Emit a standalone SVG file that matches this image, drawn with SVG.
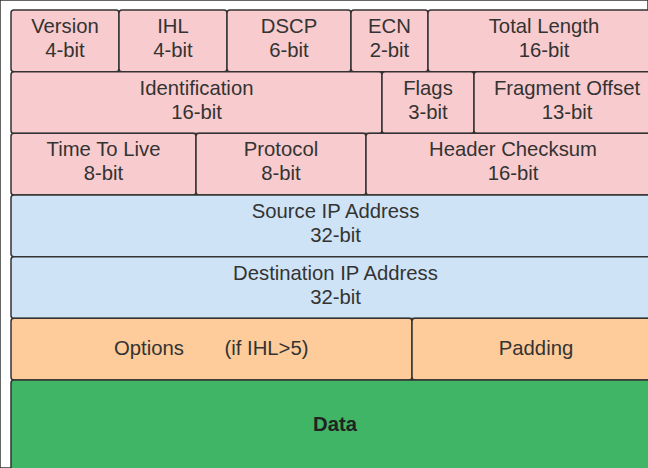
<svg xmlns="http://www.w3.org/2000/svg" width="648" height="468" viewBox="0 0 648 468">
<style>
rect{stroke:#333;stroke-width:1.5}
.p{fill:#F8CBCE}.b{fill:#CFE3F7}.o{fill:#FECB9A}.g{fill:#3FB565}
text{font-family:"Liberation Sans",Arial,sans-serif;font-size:20.3px;fill:#333;text-anchor:middle}
.bold{font-weight:bold;fill:#222}
</style>
<rect width="648" height="468" fill="#fff" stroke="none"/>
<g id="version"><rect class="p" x="11" y="10" width="108" height="61.7" rx="3"/><text x="65" y="33">Version</text><text x="65" y="57">4-bit</text></g>
<g id="ihl"><rect class="p" x="119" y="10" width="108" height="61.7" rx="3"/><text x="173" y="33">IHL</text><text x="173" y="57">4-bit</text></g>
<g id="dscp"><rect class="p" x="227" y="10" width="124" height="61.7" rx="3"/><text x="289" y="33">DSCP</text><text x="289" y="57">6-bit</text></g>
<g id="ecn"><rect class="p" x="351" y="10" width="77" height="61.7" rx="3"/><text x="389.5" y="33">ECN</text><text x="389.5" y="57">2-bit</text></g>
<g id="total-length"><rect class="p" x="428" y="10" width="232" height="61.7" rx="3"/><text x="544" y="33">Total Length</text><text x="544" y="57">16-bit</text></g>
<g id="identification"><rect class="p" x="11" y="71.7" width="371" height="61.7" rx="3"/><text x="196.5" y="94.7">Identification</text><text x="196.5" y="118.7">16-bit</text></g>
<g id="flags"><rect class="p" x="382" y="71.7" width="92" height="61.7" rx="3"/><text x="428" y="94.7">Flags</text><text x="428" y="118.7">3-bit</text></g>
<g id="fragment-offset"><rect class="p" x="474" y="71.7" width="186" height="61.7" rx="3"/><text x="567" y="94.7">Fragment Offset</text><text x="567" y="118.7">13-bit</text></g>
<g id="ttl"><rect class="p" x="11" y="133.3" width="185" height="61.7" rx="3"/><text x="103.5" y="156.3">Time To Live</text><text x="103.5" y="180.3">8-bit</text></g>
<g id="protocol"><rect class="p" x="196" y="133.3" width="170" height="61.7" rx="3"/><text x="281" y="156.3">Protocol</text><text x="281" y="180.3">8-bit</text></g>
<g id="header-checksum"><rect class="p" x="366" y="133.3" width="294" height="61.7" rx="3"/><text x="513" y="156.3">Header Checksum</text><text x="513" y="180.3">16-bit</text></g>
<g id="source"><rect class="b" x="11" y="195" width="649" height="61.7" rx="3"/><text x="335.5" y="218">Source IP Address</text><text x="335.5" y="242">32-bit</text></g>
<g id="destination"><rect class="b" x="11" y="256.7" width="649" height="61.7" rx="3"/><text x="335.5" y="279.7">Destination IP Address</text><text x="335.5" y="303.7">32-bit</text></g>
<g id="options"><rect class="o" x="11" y="318.3" width="401" height="61.7" rx="3"/><text x="149" y="355">Options</text><text x="266.5" y="355">(if IHL&gt;5)</text></g>
<g id="padding"><rect class="o" x="412" y="318.3" width="248" height="61.7" rx="3"/><text x="536" y="355">Padding</text></g>
<g id="data"><rect class="g" x="11" y="380" width="649" height="100" rx="3"/><text class="bold" x="335" y="431">Data</text></g>
<g id="connectors"></g>
</svg>
